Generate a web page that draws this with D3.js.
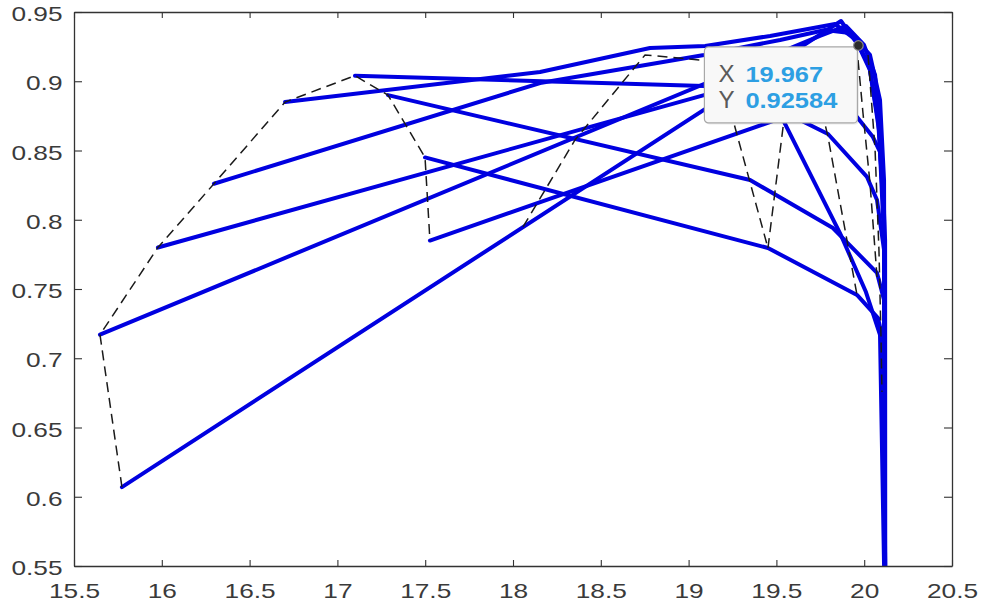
<!DOCTYPE html>
<html>
<head>
<meta charset="utf-8">
<script src="https://cdn.jsdelivr.net/npm/d3@7"></script>
<style>
  html, body { margin: 0; padding: 0; background: #ffffff; }
  svg { display: block; font-family: "Liberation Sans", Arial, Helvetica, sans-serif; }
</style>
</head>
<body>
<svg id="chart" width="981" height="608"></svg>
<script>
// Axis ticks and their labels
const xTicks = [15.5, 16, 16.5, 17, 17.5, 18, 18.5, 19, 19.5, 20, 20.5];
const xTickLabels = ["15.5", "16", "16.5", "17", "17.5", "18", "18.5", "19", "19.5", "20", "20.5"];
const yTicks = [0.55, 0.6, 0.65, 0.7, 0.75, 0.8, 0.85, 0.9, 0.95];
const yTickLabels = ["0.55", "0.6", "0.65", "0.7", "0.75", "0.8", "0.85", "0.9", "0.95"];

// Solid characteristic curves, [x, y] vertices
const solid1 = [[15.773, 0.607], [19.868, 0.9435], [19.967, 0.92584], [20.033, 0.908], [20.084, 0.865], [20.113, 0.800], [20.12, 0.50]];
const solid2 = [[15.648, 0.717], [19.748, 0.9327], [19.896, 0.9399], [19.999, 0.9262], [20.062, 0.9045], [20.096, 0.8576], [20.119, 0.7854], [20.12, 0.50]];
const solid3 = [[15.978, 0.780], [19.088, 0.890], [19.521, 0.8843], [19.959, 0.8742], [20.050, 0.8597], [20.090, 0.8489], [20.113, 0.7854], [20.12, 0.50]];
const solid4 = [[16.297, 0.826], [18.154, 0.8987], [19.088, 0.919], [19.521, 0.9298], [19.777, 0.937], [19.919, 0.9348], [20.033, 0.919], [20.090, 0.8865], [20.113, 0.8287], [20.12, 0.50]];
const solid5 = [[16.702, 0.885], [18.154, 0.9067], [18.780, 0.924], [19.094, 0.9255], [19.464, 0.9327], [19.834, 0.9413], [19.953, 0.9298], [20.028, 0.9117], [20.079, 0.872], [20.113, 0.807], [20.12, 0.50]];
const solid6 = [[17.100, 0.904], [19.088, 0.8966], [19.464, 0.8829], [19.691, 0.8684], [19.794, 0.8619], [20.016, 0.8309], [20.073, 0.8143], [20.113, 0.7782], [20.12, 0.50]];
const solid7 = [[17.288, 0.890], [19.350, 0.8287], [19.822, 0.794], [20.073, 0.7616], [20.113, 0.7421], [20.12, 0.50]];
const solid8 = [[17.499, 0.845], [19.452, 0.7796], [19.959, 0.7457], [20.079, 0.729], [20.113, 0.7096], [20.12, 0.50]];
const solid9 = [[17.527, 0.785], [19.532, 0.8735], [19.862, 0.7904], [20.010, 0.7478], [20.090, 0.7168], [20.12, 0.50]];

// Dashed connecting lines, [x, y] vertices
const dashed1 = [[15.773, 0.607], [15.648, 0.717], [15.978, 0.780], [16.297, 0.826], [16.702, 0.885], [17.100, 0.904], [17.288, 0.890], [17.499, 0.845], [17.527, 0.785]];
const dashed2 = [[18.057, 0.7948], [18.353, 0.8576], [18.752, 0.919], [19.179, 0.9139], [19.253, 0.872], [19.452, 0.7796]];
const dashed3 = [[19.452, 0.7796], [19.538, 0.867], [19.634, 0.9045], [19.720, 0.9009], [19.794, 0.8597], [19.959, 0.7457]];
const dashed4 = [[19.965, 0.9153], [19.993, 0.8771], [20.033, 0.8265], [20.073, 0.7587]];
const dashed5 = [[20.022, 0.919], [20.062, 0.8504], [20.084, 0.7782], [20.096, 0.7132], [20.101, 0.6756]];

// Data cursor
const tipX = 19.967;
const tipY = 0.92584;

const solidSeries = [solid1, solid2, solid3, solid4, solid5, solid6, solid7, solid8, solid9];
const dashedSeries = [dashed1, dashed2, dashed3, dashed4, dashed5];

const W = 981, H = 608;
const plot = { left: 74, right: 952, top: 12, bottom: 566 };

const svg = d3.select("#chart");
svg.append("rect").attr("width", W).attr("height", H).attr("fill", "#ffffff");

const x = d3.scaleLinear().domain([15.5, 20.5]).range([plot.left, plot.right]);
const y = d3.scaleLinear().domain([0.55, 0.95]).range([plot.bottom, plot.top]);

svg.append("defs").append("clipPath").attr("id", "plotClip")
  .append("rect")
  .attr("x", plot.left).attr("y", plot.top)
  .attr("width", plot.right - plot.left).attr("height", plot.bottom - plot.top);

const line = d3.line().x(d => x(d[0])).y(d => y(d[1]));

const marks = svg.append("g").attr("clip-path", "url(#plotClip)");

marks.selectAll("path.solid")
  .data(solidSeries)
  .join("path")
  .attr("class", "solid")
  .attr("d", line)
  .attr("fill", "none")
  .attr("stroke", "#0000e0")
  .attr("stroke-width", 4)
  .attr("stroke-linejoin", "round")
  .attr("stroke-linecap", "round");

marks.selectAll("path.dashed")
  .data(dashedSeries)
  .join("path")
  .attr("class", "dashed")
  .attr("d", line)
  .attr("fill", "none")
  .attr("stroke", "#1a1a1a")
  .attr("stroke-width", 1.5)
  .attr("stroke-dasharray", "10,6");

// Axes (box with inward ticks)
const axisColor = "#333333";
const labelScale = 1.25;

const gBottom = svg.append("g").attr("transform", `translate(0,${plot.bottom})`)
  .call(d3.axisBottom(x).tickValues(xTicks).tickFormat((d, i) => xTickLabels[i]).tickSizeInner(-6).tickSizeOuter(0));
const gTop = svg.append("g").attr("transform", `translate(0,${plot.top})`)
  .call(d3.axisTop(x).tickValues(xTicks).tickFormat("").tickSizeInner(-6).tickSizeOuter(0));
const gLeft = svg.append("g").attr("transform", `translate(${plot.left},0)`)
  .call(d3.axisLeft(y).tickValues(yTicks).tickFormat((d, i) => yTickLabels[i]).tickSizeInner(-8).tickSizeOuter(0));
const gRight = svg.append("g").attr("transform", `translate(${plot.right},0)`)
  .call(d3.axisRight(y).tickValues(yTicks).tickFormat("").tickSizeInner(-8).tickSizeOuter(0));

[gBottom, gTop, gLeft, gRight].forEach(g => {
  g.select(".domain").attr("stroke", axisColor).attr("stroke-width", 1.3);
  g.selectAll(".tick line").attr("stroke", axisColor).attr("stroke-width", 1.1);
});

gBottom.selectAll(".tick text")
  .attr("font-size", 21)
  .attr("font-family", "Liberation Sans, Arial, sans-serif")
  .attr("fill", "#3a3a3a")
  .attr("y", 32).attr("dy", 0)
  .attr("transform", `scale(${labelScale},1)`);

gLeft.selectAll(".tick text")
  .attr("font-size", 21)
  .attr("font-family", "Liberation Sans, Arial, sans-serif")
  .attr("fill", "#3a3a3a")
  .attr("x", -11.5 / labelScale)
  .attr("dy", 8.5)
  .attr("transform", `scale(${labelScale},1)`);

// Data cursor marker and tip box
const tx = x(tipX), ty = y(tipY);
const boxW = 153, boxH = 76;
const box = svg.append("g").attr("transform", `translate(${tx - 1 - boxW},${ty + 1.5})`);
box.append("rect")
  .attr("x", 1.5).attr("y", 1.5).attr("width", boxW).attr("height", boxH).attr("rx", 4)
  .attr("fill", "#000").attr("opacity", 0.08);
box.append("rect")
  .attr("width", boxW).attr("height", boxH).attr("rx", 4)
  .attr("fill", "#f8f8f8").attr("stroke", "#a8a8a8").attr("stroke-width", 1.2);

const tipRows = [["X", d3.format(".3f")(tipX)], ["Y", String(tipY)]];
tipRows.forEach((r, i) => {
  const row = box.append("g").attr("transform", `translate(14,${35 + i * 26})`);
  row.append("text").text(r[0])
    .attr("font-size", 23).attr("fill", "#5a5a5a")
    .attr("transform", "scale(1.05,1)");
  row.append("text").text(r[1])
    .attr("x", 27 / 1.13)
    .attr("font-size", 22.5).attr("font-weight", "bold").attr("fill", "#2d9fe3")
    .attr("transform", "scale(1.13,1)");
});

svg.append("circle")
  .attr("cx", tx).attr("cy", ty).attr("r", 4.8)
  .attr("fill", "#2b2b2b").attr("stroke", "#8a8a8a").attr("stroke-width", 1.2);
</script>
</body>
</html>
